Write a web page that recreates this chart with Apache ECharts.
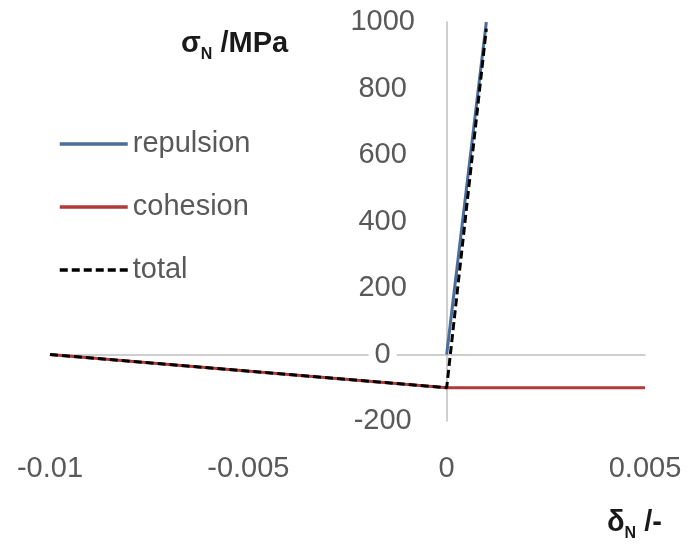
<!DOCTYPE html>
<html>
<head>
<meta charset="utf-8">
<script src="https://cdn.jsdelivr.net/npm/echarts@6/dist/echarts.min.js"></script>
<style>
html,body{margin:0;padding:0;background:#fff;}
#c{width:689px;height:553px;}
</style>
</head>
<body>
<div id="c"></div>
<script>
var xTicks = [-0.01, -0.005, 0, 0.005];
var yTicks = [-200, 0, 200, 400, 600, 800, 1000];
var seriesNames = ['repulsion', 'cohesion', 'total'];
var repulsion = [[0, 0], [0.001, 1000]];
var cohesion = [[-0.01, 0], [0, -100], [0.005, -100]];
var total = [[-0.01, 0], [0, -100], [0.001, 980]];

var FONT = '"Liberation Sans", Arial, sans-serif';
var GRID_LEFT = 50;
var chart = echarts.init(document.getElementById('c'), null, {renderer: 'canvas'});
function yAxisDef(showLabels, offset) {
  return {
    type: 'value', min: yTicks[0], max: yTicks[yTicks.length - 1], interval: 200,
    position: 'left', offset: offset || 0,
    z: 3,
    axisLine: showLabels ? {show: false, onZero: false}
                         : {show: true, onZero: true, lineStyle: {color: '#bfbfbf', width: 1.5}},
    axisTick: {show: false}, splitLine: {show: false},
    axisLabel: {show: showLabels, align: 'center', margin: 64, fontFamily: FONT, fontSize: 29, color: '#595959',
      backgroundColor: '#fff', padding: [0, 6, 0, 6],
      formatter: function (v) { return String(v); }}
  };
}
chart.setOption({
  animation: false,
  backgroundColor: '#fff',
  grid: {left: GRID_LEFT, right: 44, top: 22, bottom: 132, containLabel: false, outerBoundsMode: 'none'},
  legend: {
    orient: 'vertical',
    left: 53, top: 124,
    itemWidth: 68, itemHeight: 14, itemGap: 33,
    data: seriesNames,
    itemStyle: {opacity: 0},
    lineStyle: {width: 3.5},
    textStyle: {fontFamily: FONT, fontSize: 29, color: '#595959', lineHeight: 30, padding: [0, 0, 0, 0]}
  },
  xAxis: [{
    type: 'value', min: xTicks[0], max: xTicks[xTicks.length - 1], interval: 0.005,
    position: 'bottom',
    axisLine: {show: true, onZero: true, lineStyle: {color: '#bfbfbf', width: 1.5}},
    axisTick: {show: false}, axisLabel: {show: false}, splitLine: {show: false}
  }, {
    type: 'value', min: xTicks[0], max: xTicks[xTicks.length - 1], interval: 0.005,
    position: 'bottom',
    axisLine: {show: false, onZero: false},
    axisTick: {show: false}, splitLine: {show: false},
    axisLabel: {show: true, margin: 33, fontFamily: FONT, fontSize: 29, color: '#595959',
      formatter: function (v) { return String(+v.toFixed(4)); }}
  }],
  yAxis: [yAxisDef(false, 0), yAxisDef(true, 0)],
  graphic: [{
    type: 'text', left: 181, top: 29,
    style: {
      text: '{a|σ}{s|N}{a| /MPa}',
      rich: {
        a: {fontFamily: FONT, fontSize: 29, fontWeight: 'bold', fill: '#1a1a1a', verticalAlign: 'bottom'},
        s: {fontFamily: FONT, fontSize: 16, fontWeight: 'bold', fill: '#1a1a1a', verticalAlign: 'bottom', padding: [0, 0, -5, 0]}
      }
    }
  }, {
    type: 'text', left: 607, top: 508,
    style: {
      text: '{a|δ}{s|N}{a| /-}',
      rich: {
        a: {fontFamily: FONT, fontSize: 29, fontWeight: 'bold', fill: '#1a1a1a', verticalAlign: 'bottom'},
        s: {fontFamily: FONT, fontSize: 16, fontWeight: 'bold', fill: '#1a1a1a', verticalAlign: 'bottom', padding: [0, 0, -5, 0]}
      }
    }
  }],
  series: [{
    name: seriesNames[0], type: 'line', data: repulsion, symbol: 'none', xAxisIndex: 0, yAxisIndex: 0,
    itemStyle: {color: '#4a6e9a'},
    lineStyle: {color: '#4a6e9a', width: 3}
  }, {
    name: seriesNames[1], type: 'line', data: cohesion, symbol: 'none', xAxisIndex: 0, yAxisIndex: 0,
    itemStyle: {color: '#b03a3a'},
    lineStyle: {color: '#b03a3a', width: 3}
  }, {
    name: seriesNames[2], type: 'line', data: total, symbol: 'none', xAxisIndex: 0, yAxisIndex: 0,
    itemStyle: {color: '#000'},
    lineStyle: {color: '#000', width: 3, type: [8, 4]}
  }]
});
// place the label axis at x = 0 (where the y axis line sits)
var zeroPx = chart.convertToPixel({xAxisIndex: 0}, 0);
chart.setOption({yAxis: [{}, {offset: -(zeroPx - GRID_LEFT)}]});
</script>
</body>
</html>
